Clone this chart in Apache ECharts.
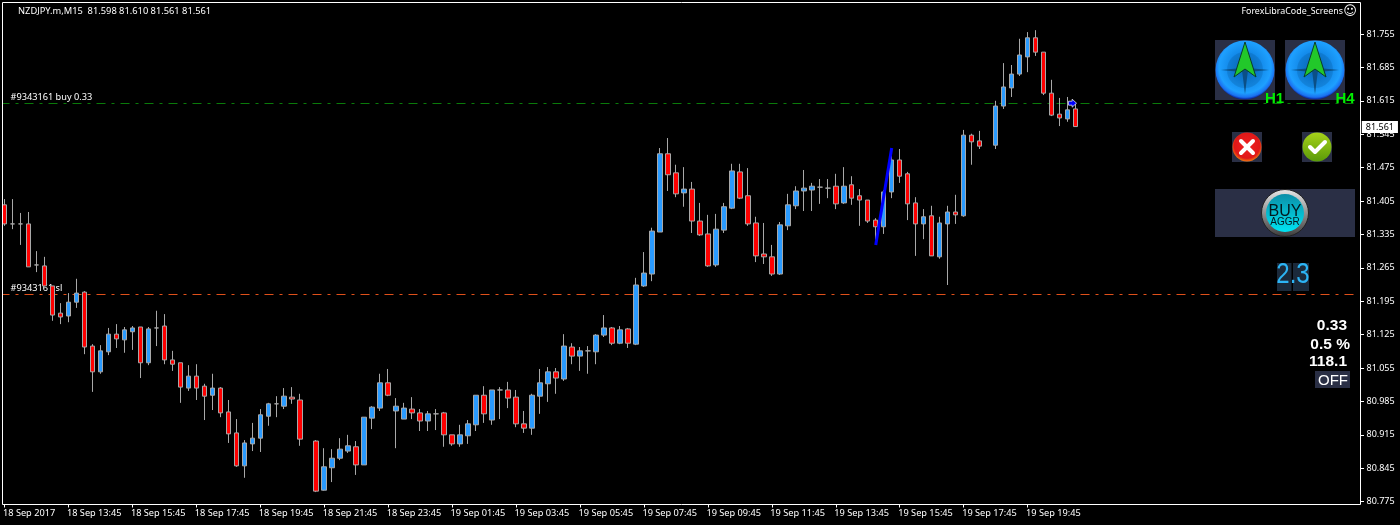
<!DOCTYPE html>
<html>
<head>
<meta charset="utf-8">
<style>html,body{margin:0;padding:0;background:#000}#c{width:1400px;height:525px}</style>
<script src="https://cdn.jsdelivr.net/npm/echarts@6/dist/echarts.min.js"></script>
</head>
<body>
<div id="c"></div>
<script>
const opens=[81.397,81.357,81.357,81.357,81.271,81.269,81.227,81.170,81.164,81.193,
81.214,81.101,81.047,81.089,81.126,81.114,81.131,81.141,81.066,81.139,
81.143,81.072,81.066,81.013,81.038,81.017,80.998,81.013,80.963,80.919,
80.850,80.896,80.908,80.954,80.980,80.975,80.994,80.988,null,80.902,
80.799,80.846,80.866,80.881,80.890,80.852,80.950,80.971,81.024,80.965,
80.948,80.969,80.961,80.944,80.959,80.961,80.915,80.896,80.913,80.936,
80.998,80.946,81.009,81.009,80.994,80.938,80.929,80.996,81.022,81.047,
81.032,81.099,81.080,81.091,81.089,81.124,81.139,81.107,81.137,81.105,
81.227,81.252,81.340,81.504,81.464,81.422,81.430,81.363,81.336,81.271,
81.344,81.390,81.466,81.416,81.359,81.294,81.288,81.252,81.353,81.395,
81.426,81.428,81.434,81.432,81.436,81.401,81.439,81.416,81.407,81.365,
81.351,81.424,81.491,81.462,81.401,81.357,81.374,81.288,81.357,81.382,
81.374,81.543,81.531,null,81.522,81.604,81.642,81.671,81.707,81.747,
81.717,81.631,81.587,81.577,81.598];
const closes=[81.357,81.357,81.357,81.267,81.271,81.227,81.166,81.162,81.193,81.212,
81.099,81.047,81.091,81.126,81.116,81.135,81.139,81.066,81.137,81.139,
81.072,81.063,81.015,81.038,81.013,80.996,81.013,80.961,80.917,80.850,
80.898,80.908,80.957,80.980,80.980,80.996,80.990,80.906,null,80.797,
80.848,80.866,80.885,80.892,80.852,80.952,80.973,81.024,80.998,80.975,
80.971,80.961,80.944,80.959,80.959,80.915,80.896,80.915,80.938,80.998,
80.959,81.009,81.009,80.992,80.938,80.929,80.998,81.024,81.047,81.034,
81.101,81.080,81.091,81.091,81.124,81.139,81.107,81.135,81.107,81.229,
81.254,81.342,81.504,81.460,81.420,81.430,81.363,81.334,81.269,81.346,
81.393,81.468,81.411,81.357,81.290,81.288,81.252,81.355,81.397,81.426,
81.432,81.436,81.434,81.432,81.399,81.436,81.411,81.407,81.363,81.351,
81.424,81.491,81.457,81.399,81.357,81.372,81.290,81.359,81.382,81.376,
81.543,81.529,81.520,null,81.604,81.644,81.671,81.711,81.747,81.717,
81.631,81.585,81.579,81.596,81.561];
const highs=[81.409,81.409,81.380,81.382,81.300,81.288,81.227,81.191,81.212,81.242,
81.216,81.105,81.103,81.139,81.147,81.141,81.143,81.141,81.141,81.175,
81.168,81.091,81.066,81.061,81.063,81.022,81.043,81.015,80.988,80.948,
80.904,80.940,80.969,80.982,80.996,81.013,81.015,81.001,null,80.904,
80.887,80.885,80.908,80.915,80.902,80.952,80.975,81.043,81.053,80.992,
80.982,80.994,80.969,80.965,80.969,80.963,80.915,80.936,80.946,80.998,
81.017,81.009,81.015,81.026,81.009,80.965,81.001,81.053,81.057,81.055,
81.126,81.107,81.099,81.101,81.126,81.166,81.141,81.143,81.139,81.244,
81.298,81.349,81.516,81.537,81.481,81.476,81.445,81.401,81.376,81.378,
81.401,81.483,81.483,81.474,81.372,81.359,81.313,81.361,81.420,81.436,
81.470,81.443,81.451,81.451,81.462,81.476,81.457,81.430,81.407,81.369,
81.428,81.516,81.514,81.466,81.413,81.388,81.395,81.372,81.395,81.418,
81.554,81.546,81.552,null,81.615,81.694,81.690,81.745,81.759,81.763,
81.717,81.659,81.621,81.623,81.610];
const lows=[81.353,81.346,81.313,81.267,81.256,81.227,81.154,81.147,81.151,81.181,
81.084,81.005,81.043,81.082,81.097,81.087,81.093,81.034,81.061,81.101,
81.063,81.049,80.982,81.007,80.988,80.946,80.967,80.952,80.898,80.848,
80.825,80.881,80.879,80.934,80.952,80.969,80.980,80.892,null,80.795,
80.798,80.816,80.862,80.877,80.831,80.852,80.927,80.965,80.996,80.887,
80.948,80.948,80.923,80.923,80.925,80.890,80.892,80.890,80.896,80.923,
80.940,80.936,80.948,80.971,80.931,80.919,80.915,80.959,80.984,81.001,
81.028,81.063,81.049,81.043,81.063,81.120,81.103,81.105,81.097,81.103,
81.225,81.237,81.340,81.426,81.413,81.393,81.338,81.332,81.267,81.267,
81.338,81.388,81.409,81.353,81.277,81.273,81.248,81.250,81.344,81.388,
81.384,81.384,81.399,81.411,81.388,81.399,81.397,81.353,81.359,81.323,
81.336,81.411,81.443,81.365,81.290,81.325,81.290,81.284,81.229,81.357,
81.372,81.481,81.514,null,81.514,81.598,81.623,81.667,81.675,81.709,
81.627,81.583,81.562,81.571,81.561];
const timeLabels=["18 Sep 2017","18 Sep 13:45","18 Sep 15:45","18 Sep 17:45","18 Sep 19:45","18 Sep 21:45","18 Sep 23:45","19 Sep 01:45","19 Sep 03:45","19 Sep 05:45","19 Sep 07:45","19 Sep 09:45","19 Sep 11:45","19 Sep 13:45","19 Sep 15:45","19 Sep 17:45","19 Sep 19:45"];
const priceTicks=[81.755,81.685,81.615,81.545,81.475,81.405,81.335,81.265,81.195,81.125,81.055,80.985,80.915,80.845,80.775];
const buyLevel=81.610, slLevel=81.212, lastPrice=81.561;
const trendLine=[[109,81.313],[111,81.516]];
const arrowMark=[134,81.610];

const SLOTS=170, STEP=8;
const categories=[];
for(let i=0;i<SLOTS;i++){categories.push(i%STEP===0&&timeLabels[i/STEP]?timeLabels[i/STEP]:'');}
const candles=opens.map((o,i)=>o==null?['-','-','-','-']:[o,closes[i],lows[i],highs[i]]);

const FONT='"Noto Sans"';
const PANEL='#2a2f45';
function R(x,y,w,h,fill,z){return {type:'rect',silent:true,z:z||10,shape:{x,y,width:w,height:h},style:{fill}};}
function C(cx,cy,r,fill,z,stroke,lw){return {type:'circle',silent:true,z:z||11,shape:{cx,cy,r},style:{fill,stroke:stroke||null,lineWidth:lw||0}};}
function P(points,fill,z,stroke,lw){return {type:'polygon',silent:true,z:z||12,shape:{points},style:{fill,stroke:stroke||null,lineWidth:lw||0}};}
function L(points,stroke,lw,z){return {type:'polyline',silent:true,z:z||13,shape:{points},style:{stroke,lineWidth:lw,fill:null,lineCap:'round',lineJoin:'round'}};}
function T(text,x,y,font,fill,align,z){return {type:'text',silent:true,z:z||14,style:{text,x,y,font,fill,textAlign:align||'left',textVerticalAlign:'middle'}};}
function radial(stops){return new echarts.graphic.RadialGradient(0.5,0.45,0.55,stops.map((c,i)=>({offset:c[0],color:c[1]})));}
function linear(a,b){return new echarts.graphic.LinearGradient(0,0,0,1,[{offset:0,color:a},{offset:1,color:b}]);}
function compass(x0){
  const cx=x0+30, cy=70;
  return [
    R(x0,40,60,60,PANEL),
    C(cx,cy,29.5,radial([[0,'#0a6fc0'],[0.45,'#1288e8'],[0.8,'#1ea0ff'],[0.93,'#1a70f0'],[1,'#0a1c90']])),
    C(cx,cy,18,'rgba(0,60,110,0.18)',11),
    P([[cx-24,cy],[cx-3,cy-2],[cx,cy],[cx-3,cy+2]],'#0b4f86',12),
    P([[cx+24,cy],[cx+3,cy-2],[cx,cy],[cx+3,cy+2]],'#0b4f86',12),
    P([[cx,cy+24],[cx-3,cy],[cx+3,cy]],'#0b4f86',12),
    P([[cx,cy-28],[cx+11,cy+7],[cx,cy-1],[cx-11,cy+7]],'#22c82a',13,'#0b3d2a',1)
  ];
}
const digitText=T('2.3',1293,275,'24px "Liberation Sans"','#2cb4f4','center');
digitText.scaleY=1.2; digitText.originX=1293; digitText.originY=275;
const panelGraphics=[].concat(
  [R(0,0,2,525,'#000',40),
   {type:'rect',silent:true,z:41,shape:{x:2.5,y:2.5,width:1358,height:502},style:{fill:null,stroke:'#fff',lineWidth:1}},
   T('NZDJPY.m,M15  81.598 81.610 81.561 81.561',18,11,'9.3px '+FONT,'#fff','left',42),
   T('ForexLibraCode_Screens',1343,11.5,'8.9px '+FONT,'#fff','right',42),
   T('\u263A',1350,11.5,'13px "DejaVu Sans"','#fff','center',42)],
  compass(1215),compass(1285),
  [T('H1',1265,99,'bold 15px "Liberation Sans"','#00f000'),
   T('H4',1335.5,99,'bold 15px "Liberation Sans"','#00f000'),
   R(1232,132,30,30,PANEL),
   C(1247,147,14.5,radial([[0,'#f02020'],[0.8,'#e01818'],[1,'#f07a10']])),
   L([[1241,141],[1253,153]],'#fff',4),L([[1253,141],[1241,153]],'#fff',4),
   R(1302,132,30,30,PANEL),
   C(1317,147,14.5,linear('#a6d21a','#5a9a08')),
   L([[1310,147],[1315,152],[1325,142]],'#fff',4),
   R(1215,189,140,48,PANEL),
   C(1285,213,23.5,linear('#e8e8e8','#3a3a3a'),11,'#222',1),
   C(1285,213,19,linear('#0b8fa8','#00e4f2')),
   T('BUY',1285,212,'16px "Liberation Sans"','#03181e','center'),
   T('AGGR',1285,222,'10px "Liberation Sans"','#03181e','center'),
   R(1277,263,14.5,28,'#1b2a3b'),R(1293,263,16,28,'#1b2a3b'),
   digitText,
   T('0.33',1347,325.5,'bold 15.5px "Liberation Sans"','#fff','right'),
   T('0.5 %',1350,344.5,'bold 15.5px "Liberation Sans"','#fff','right'),
   T('118.1',1347,361.5,'bold 15.5px "Liberation Sans"','#fff','right'),
   R(1315,371,35,17,PANEL),
   T('OFF',1333,380.5,'15px "Liberation Sans"','#fff','center')]
);

function levelLine(y,color,label){
  return {yAxis:y,lineStyle:{color,width:1,type:[9,6,3,6]},
    label:{show:true,formatter:label,position:'insideStartTop',color:'#fff',fontFamily:FONT,fontSize:9.2,distance:[10,1]}};
}
const chart=echarts.init(document.getElementById('c'),null,{renderer:'canvas'});
chart.setOption({
  animation:false,
  backgroundColor:'#000',
  grid:{left:-0.7,top:2.5,width:1360,height:502,containLabel:false,show:false},
  xAxis:{type:'category',data:categories,boundaryGap:true,
    axisLine:{show:false},
    axisTick:{show:true,alignWithLabel:true,length:3,interval:i=>i%STEP===0&&i<=128,lineStyle:{color:'#fff',width:1}},
    axisLabel:{show:true,interval:i=>i%STEP===0&&i<=128,align:'left',color:'#fff',fontFamily:FONT,fontSize:9.2,margin:4,padding:[0,0,0,-1.5],showMinLabel:true,hideOverlap:false},
    splitLine:{show:false}},
  yAxis:{type:'value',position:'right',offset:1.7,min:80.769,max:81.821,scale:true,
    axisLine:{show:false},
    axisTick:{show:true,length:3,customValues:priceTicks,lineStyle:{color:'#fff',width:1}},
    axisLabel:{show:true,customValues:priceTicks,color:'#fff',fontFamily:FONT,fontSize:9,margin:5.5,padding:[2,0,0,0],formatter:v=>v.toFixed(3)},
    splitLine:{show:false}},
  series:[
    {type:'candlestick',data:candles,barWidth:5,z:3,clip:true,
     itemStyle:{color:'#2a9bff',color0:'#ff0000',borderColor:'#a8a8a8',borderColor0:'#a8a8a8',borderColorDoji:'#a8a8a8',borderWidth:1},
     markLine:{silent:true,symbol:'none',animation:false,z:2,
       data:[levelLine(buyLevel,'#0a7a0a','#9343161 buy 0.33'),levelLine(slLevel,'#e0501a','#9343161 sl'),
         {yAxis:lastPrice,lineStyle:{color:'rgba(0,0,0,0)',width:1,type:'solid'},label:{show:true,position:'end',formatter:lastPrice.toFixed(3),color:'#000',backgroundColor:'#fff',fontFamily:FONT,fontSize:9,padding:[2,4,1,4],distance:2.5}}]},
     markPoint:{silent:true,animation:false,z:6,
       data:[{coord:arrowMark,symbol:'path://M0,2.5 L4.5,2.5 L4.5,0 L10,5 L4.5,10 L4.5,7.5 L0,7.5 Z',symbolSize:8,symbolOffset:[-3,0],itemStyle:{color:'#0000ff',borderColor:'#fff',borderWidth:0.7},label:{show:false}}]}},
    {type:'line',data:trendLine,symbol:'none',z:5,silent:true,lineStyle:{color:'#0000ff',width:3},connectNulls:true}
  ],
  graphic:{elements:panelGraphics}
});
</script>
</body>
</html>
